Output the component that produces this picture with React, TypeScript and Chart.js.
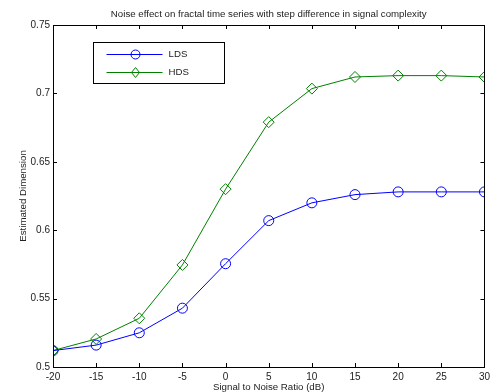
import { useEffect, useRef } from 'react';
import { Chart, registerables } from 'chart.js';

Chart.register(...registerables);

const snrDb = [-20, -15, -10, -5, 0, 5, 10, 15, 20, 25, 30];
const ldsValues = [0.512, 0.516, 0.525, 0.543, 0.5755, 0.607, 0.62, 0.626, 0.628, 0.628, 0.628];
const hdsValues = [0.512, 0.5205, 0.5356, 0.5746, 0.63, 0.679, 0.7035, 0.712, 0.713, 0.713, 0.712];
const seriesLabels = ['LDS', 'HDS'];
const chartTitle = 'Noise effect on fractal time series with step difference in signal complexity';
const xAxisTitle = 'Signal to Noise Ratio (dB)';
const yAxisTitle = 'Estimated Dimension';
const xRange = [-20, 30];
const yRange = [0.5, 0.75];
const xStep = 5;
const yStep = 0.05;

const FONT = '"Liberation Sans", Arial, Helvetica, sans-serif';
const TEXT = '#222';
const LABEL_SIZE = 9.7;

function drawMarker(ctx: CanvasRenderingContext2D, style: string, x: number, y: number, r: number) {
  ctx.beginPath();
  if (style === 'rectRot') {
    ctx.moveTo(x, y - r * 1.1);
    ctx.lineTo(x + r * 0.9, y);
    ctx.lineTo(x, y + r * 1.1);
    ctx.lineTo(x - r * 0.9, y);
    ctx.closePath();
  } else {
    ctx.arc(x, y, r, 0, Math.PI * 2);
  }
  ctx.stroke();
}

const frameAndLegend = {
  id: 'frameAndLegend',
  afterDraw(chart: any) {
    const { ctx, chartArea } = chart;
    const { left, right, top, bottom } = chartArea;
    ctx.save();
    ctx.strokeStyle = '#000';
    ctx.lineWidth = 1;
    ctx.strokeRect(Math.round(left) + 0.5, Math.round(top) + 0.5, Math.round(right - left), Math.round(bottom - top));
    const tl = 4;
    const xs = chart.scales.x;
    const ys = chart.scales.y;
    ctx.beginPath();
    xs.ticks.forEach((t: any) => {
      const px = Math.round(xs.getPixelForValue(t.value)) + 0.5;
      ctx.moveTo(px, bottom);
      ctx.lineTo(px, bottom - tl);
      ctx.moveTo(px, top);
      ctx.lineTo(px, top + tl);
    });
    ys.ticks.forEach((t: any) => {
      const py = Math.round(ys.getPixelForValue(t.value)) + 0.5;
      ctx.moveTo(left, py);
      ctx.lineTo(left + tl, py);
      ctx.moveTo(right, py);
      ctx.lineTo(right - tl, py);
    });
    ctx.stroke();

    const bx = Math.round(left + 40) + 0.5;
    const by = Math.round(top + 17) + 0.5;
    const bw = 131;
    const bh = 41;
    ctx.fillStyle = '#fff';
    ctx.fillRect(bx, by, bw, bh);
    ctx.strokeStyle = '#000';
    ctx.strokeRect(bx, by, bw, bh);
    chart.data.datasets.forEach((ds: any, i: number) => {
      const yy = by + 12 + i * 18;
      ctx.strokeStyle = ds.borderColor;
      ctx.lineWidth = 1;
      ctx.beginPath();
      ctx.moveTo(bx + 13, yy);
      ctx.lineTo(bx + 69, yy);
      ctx.stroke();
      drawMarker(ctx, ds.pointStyle, bx + 42, yy, 4.5);
      ctx.fillStyle = TEXT;
      ctx.font = `${LABEL_SIZE}px ${FONT}`;
      ctx.textBaseline = 'middle';
      ctx.textAlign = 'left';
      ctx.fillText(ds.label, bx + 75, yy);
    });
    ctx.restore();
  },
};

export default function App() {
  const ref = useRef<HTMLCanvasElement | null>(null);
  useEffect(() => {
    document.body.style.margin = '0';
    const canvas = ref.current;
    if (!canvas) return;
    const chart = new Chart(canvas, {
      type: 'line',
      data: {
        datasets: [
          {
            label: seriesLabels[0],
            data: snrDb.map((x, i) => ({ x, y: ldsValues[i] })),
            borderColor: 'rgb(0,0,255)',
            backgroundColor: 'rgba(0,0,0,0)',
            pointStyle: 'circle',
            pointRadius: 5,
            pointBorderWidth: 1,
            borderWidth: 1,
            tension: 0,
          },
          {
            label: seriesLabels[1],
            data: snrDb.map((x, i) => ({ x, y: hdsValues[i] })),
            borderColor: 'rgb(0,128,0)',
            backgroundColor: 'rgba(0,0,0,0)',
            pointStyle: 'rectRot',
            pointRadius: 5.5,
            pointBorderWidth: 1,
            borderWidth: 1,
            tension: 0,
          },
        ],
      },
      options: {
        responsive: false,
        animation: false,
        layout: { padding: { top: 0, right: 7, left: 0, bottom: 0 } },
        plugins: {
          legend: { display: false },
          tooltip: { enabled: false },
          title: {
            display: true,
            text: chartTitle,
            fullSize: false,
            color: TEXT,
            font: { family: FONT, size: LABEL_SIZE, weight: 'normal', lineHeight: 1 },
            padding: { top: 9.15, bottom: 6.15 },
          },
        },
        scales: {
          x: {
            type: 'linear',
            min: xRange[0],
            max: xRange[1],
            grid: { display: false, drawTicks: false },
            border: { display: false },
            ticks: {
              stepSize: xStep,
              color: TEXT,
              padding: 4,
              maxRotation: 0,
              font: { family: FONT, size: 10 },
            },
            title: {
              display: true,
              text: xAxisTitle,
              color: TEXT,
              font: { family: FONT, size: LABEL_SIZE, lineHeight: 1 },
              padding: { top: 0, bottom: 0.15 },
            },
            afterFit(scale: any) {
              scale.height = 25;
            },
          },
          y: {
            type: 'linear',
            min: yRange[0],
            max: yRange[1],
            grid: { display: false, drawTicks: false },
            border: { display: false },
            ticks: {
              stepSize: yStep,
              color: TEXT,
              padding: 3,
              font: { family: FONT, size: 10 },
              callback: (v: any) => String(Number(Number(v).toFixed(2))),
            },
            title: {
              display: true,
              text: yAxisTitle,
              color: TEXT,
              font: { family: FONT, size: LABEL_SIZE, lineHeight: 1 },
              padding: { top: 18.15, bottom: 0 },
            },
            afterFit(scale: any) {
              scale.width = 53;
            },
          },
        },
      },
      plugins: [frameAndLegend],
    });
    return () => chart.destroy();
  }, []);
  return <canvas ref={ref} width={494} height={392} style={{ display: 'block' }} />;
}
